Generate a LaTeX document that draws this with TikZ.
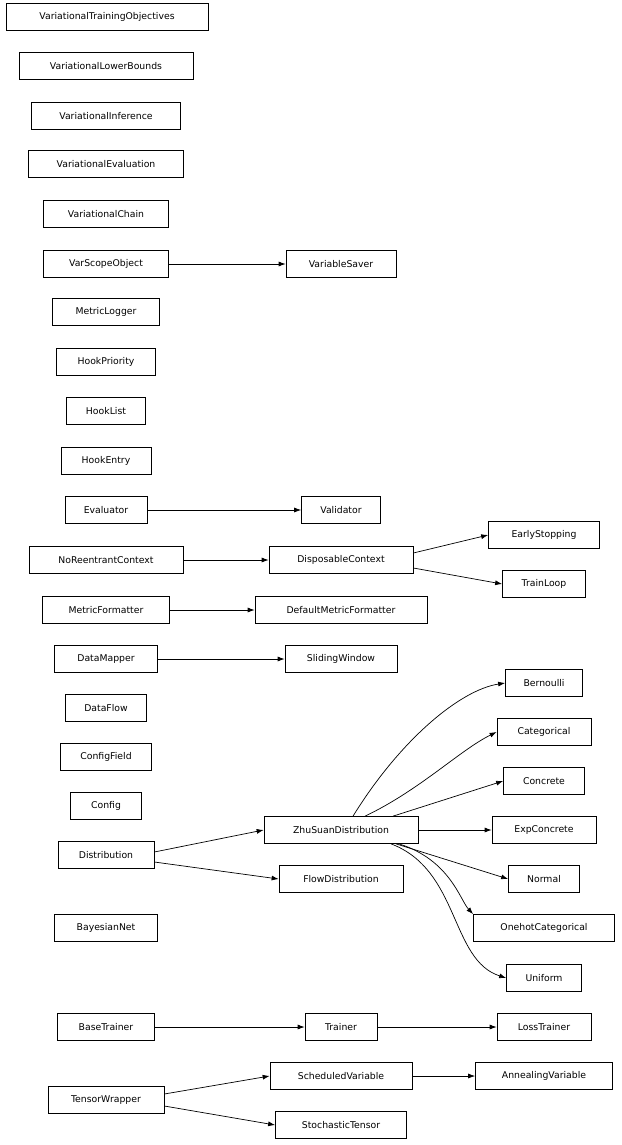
\documentclass[tikz,border=0pt]{standalone}
\usepackage{fontspec}
\setmainfont{DejaVu Sans}
\usetikzlibrary{arrows.meta}
\begin{document}
\begin{tikzpicture}[x=1pt,y=-1pt,
  box/.style={draw,line width=0.7pt,minimum height=27pt,inner sep=0pt,font=\fontsize{9.3}{10}\selectfont,fill=white},
  arr/.style={line width=0.7pt,-{Latex[length=7pt,width=5pt]}}]
\useasboundingbox (0,0) rectangle (621,1145);
\newcommand{\bx}[4]{\node[box,minimum width=#3pt] (#1) at #2 {#4};}
\bx{vto}{(107,17)}{202}{VariationalTrainingObjectives}
\bx{vlb}{(106,66)}{174}{VariationalLowerBounds}
\bx{vi}{(106,116)}{149}{VariationalInference}
\bx{ve}{(106,164)}{155}{VariationalEvaluation}
\bx{vc}{(106,214)}{125}{VariationalChain}
\bx{vso}{(106,264)}{125}{VarScopeObject}
\bx{vs}{(341,264)}{110}{VariableSaver}
\bx{ml}{(106,312)}{107}{MetricLogger}
\bx{hp}{(106,362)}{99}{HookPriority}
\bx{hl}{(106,411)}{79}{HookList}
\bx{he}{(106,461)}{90}{HookEntry}
\bx{ev}{(106,510)}{82}{Evaluator}
\bx{va}{(341,510)}{79}{Validator}
\bx{nrc}{(106,560)}{154}{NoReentrantContext}
\bx{dc}{(341,560)}{144}{DisposableContext}
\bx{es}{(544,535)}{111}{EarlyStopping}
\bx{tl}{(544,584)}{83}{TrainLoop}
\bx{mf}{(106,610)}{127}{MetricFormatter}
\bx{dmf}{(341,610)}{172}{DefaultMetricFormatter}
\bx{dm}{(106,659)}{103}{DataMapper}
\bx{sw}{(341,659)}{112}{SlidingWindow}
\bx{be}{(544,683)}{77}{Bernoulli}
\bx{df}{(106,708)}{81}{DataFlow}
\bx{ca}{(544,732)}{94}{Categorical}
\bx{cf}{(106,757)}{91}{ConfigField}
\bx{co}{(544,781)}{81}{Concrete}
\bx{cfg}{(106,806)}{71}{Config}
\bx{zd}{(341,830)}{154}{ZhuSuanDistribution}
\bx{ec}{(544,830)}{104}{ExpConcrete}
\bx{di}{(106,855)}{96}{Distribution}
\bx{no}{(544,879)}{71}{Normal}
\bx{fd}{(341,879)}{124}{FlowDistribution}
\bx{oc}{(544,928)}{141}{OnehotCategorical}
\bx{bn}{(106,928)}{103}{BayesianNet}
\bx{un}{(544,978)}{75}{Uniform}
\bx{bt}{(106,1027)}{97}{BaseTrainer}
\bx{tr}{(341,1027)}{72}{Trainer}
\bx{lt}{(544,1027)}{94}{LossTrainer}
\bx{tw}{(106,1100)}{116}{TensorWrapper}
\bx{sv}{(341,1076)}{142}{ScheduledVariable}
\bx{av}{(544,1076)}{137}{AnnealingVariable}
\bx{st}{(341,1125)}{131}{StochasticTensor}
\draw[arr] (vso) -- (vs);
\draw[arr] (ev) -- (va);
\draw[arr] (nrc) -- (dc);
\draw[arr] (dc.east) ++(0,-7) coordinate (d1) -- (es.west);
\draw[arr] (dc.east) ++(0,8) coordinate (d2) -- (tl.west);
\draw[arr] (mf) -- (dmf);
\draw[arr] (dm) -- (sw);
\draw[arr] (zd.north) ++(12,0) coordinate (z1) .. controls (400,740) and (460,690) .. (be.west);
\draw[arr] (zd.north) ++(24,0) coordinate (z2) .. controls (420,790) and (460,750) .. (ca.west);
\draw[arr] (zd.north) ++(52,0) coordinate (z3) -- (co.west);
\draw[arr] (zd) -- (ec);
\draw[arr] (zd.south) ++(55,0) coordinate (z4) -- (no.west);
\draw[arr] (zd.south) ++(58,0) coordinate (z5) .. controls (450,860) and (460,900) .. (oc.north west);
\draw[arr] (zd.south) ++(50,0) coordinate (z6) .. controls (460,870) and (450,960) .. (un.west);
\draw[arr] (di.east) ++(0,-3) coordinate (x1) -- (zd.west);
\draw[arr] (di.east) ++(0,7) coordinate (x2) -- (fd.west);
\draw[arr] (bt) -- (tr);
\draw[arr] (tr) -- (lt);
\draw[arr] (sv) -- (av);
\draw[arr] (tw.east) ++(0,-6) coordinate (t1) -- (sv.west);
\draw[arr] (tw.east) ++(0,6) coordinate (t2) -- (st.west);
\end{tikzpicture}
\end{document}
